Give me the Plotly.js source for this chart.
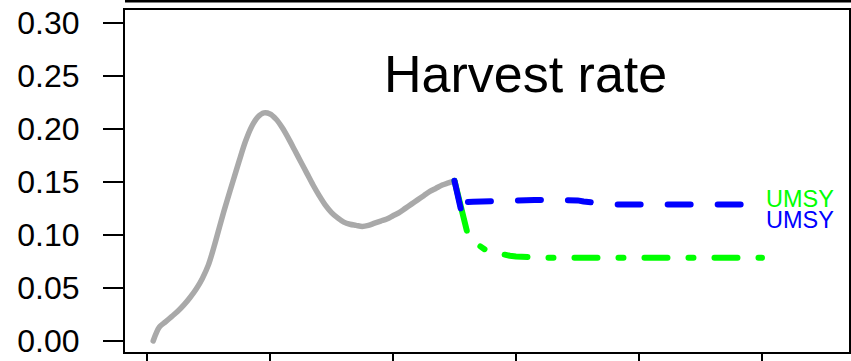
<!DOCTYPE html>
<html>
<head>
<meta charset="utf-8">
<script src="https://cdn.plot.ly/plotly-3.0.1.min.js"></script>
<style>
html,body{margin:0;padding:0;background:#fff;}
#chart{width:851px;height:361px;}
.scatterlayer .js-line{stroke-linecap:round !important;stroke-linejoin:round !important;}
</style>
</head>
<body>
<div id="chart"></div>
<script>
// ---- data ----
const histYears = [1961,1962,1963,1964,1965,1966,1967,1968,1969,1970,1971,1972,1973,1974,1975,1976,1977,1978,1979,1980,
  1981,1982,1983,1984,1985,1986,1987,1988,1989,1990,1991,1992,1993,1994,1995,1996,1997,1998,1999,2000,
  2001,2002,2003,2004,2005,2006,2007,2008,2009,2010];
const histRate = [0.000,0.013,0.018,0.023,0.028,0.034,0.041,0.049,0.059,0.072,0.091,0.112,0.132,0.151,0.170,0.188,0.202,0.211,0.215,0.214,
  0.209,0.201,0.191,0.180,0.169,0.158,0.147,0.137,0.128,0.121,0.116,0.112,0.110,0.109,0.108,0.109,0.111,0.113,0.115,0.118,
  0.121,0.125,0.129,0.133,0.137,0.141,0.144,0.147,0.149,0.151];
const projYears = [2010,2011,2012,2013,2014,2015,2016,2017,2018,2019,2020,2021,2022,2023,2024,2025,2026,2027,2028,2029,
  2030,2031,2032,2033,2034,2035,2036,2037,2038,2039,2040,2041,2042,2043,2044,2045,2046,2047,2048,2049,
  2050,2051,2052,2053,2054,2055,2056,2057,2058,2059,2060];
const greenRate = [0.151,0.126,0.104,0.095,0.090,0.086,0.084,0.0825,0.0812,0.0803,0.0797,0.0792,0.0789,0.0787,0.0786,0.0785,0.0785,0.0785,0.0785,0.0785,
  0.0785,0.0785,0.0785,0.0785,0.0785,0.0785,0.0785,0.0785,0.0785,0.0785,0.0785,0.0785,0.0785,0.0785,0.0785,0.0785,0.0785,0.0785,0.0785,0.0785,
  0.0785,0.0785,0.0785,0.0785,0.0785,0.0785,0.0785,0.0785,0.0785,0.0785,0.0785];
const blueRate = [0.151,0.125,0.131,0.1312,0.1315,0.1318,0.1320,0.1322,0.1324,0.1326,0.1327,0.1328,0.1328,0.1329,0.1330,0.1331,0.1332,0.1334,0.1335,0.1333,
  0.1325,0.1315,0.1305,0.1298,0.1292,0.1289,0.1287,0.1287,0.1287,0.1287,0.1287,0.1287,0.1287,0.1287,0.1287,0.1287,0.1287,0.1287,0.1287,0.1287,
  0.1287,0.1287,0.1287,0.1287,0.1287,0.1287,0.1287,0.1287,0.1287,0.1287,0.1287];
const yTickVals = [0.00,0.05,0.10,0.15,0.20,0.25,0.30];
const yTickText = ['0.00','0.05','0.10','0.15','0.20','0.25','0.30'];
const xTickVals = [1960,1980,2000,2020,2040,2060];
const titleText = 'Harvest rate';
const labelGreen = 'UMSY';
const labelBlue = 'UMSY';
const labelGreenY = 0.1338;
const labelBlueY = 0.1140;

// ---- styles ----
const FONT = 'Liberation Sans, Arial, Helvetica, sans-serif';
const GRAY = '#A9A9A9', GREEN = '#00FF00', BLUE = '#0000FF';
const LW = 6;

const traces = [
  {x: histYears, y: histRate, mode:'lines', line:{color:GRAY, width:5.5, shape:'spline', smoothing:0.9}, hoverinfo:'skip'},
  {x: projYears.slice(0,3), y: greenRate.slice(0,3), mode:'lines', line:{color:GREEN, width:LW}, hoverinfo:'skip'},
  {x: projYears.slice(2), y: greenRate.slice(2), mode:'lines', line:{color:GREEN, width:LW, dash:'23px,21px,5px,21px'}, hoverinfo:'skip'},
  {x: projYears.slice(0,2), y: blueRate.slice(0,2), mode:'lines', line:{color:BLUE, width:LW}, hoverinfo:'skip'},
  {x: projYears.slice(1), y: blueRate.slice(1), mode:'lines', line:{color:BLUE, width:LW, dash:'23px,27px'}, hoverinfo:'skip'}
];

const layout = {
  width: 851, height: 361,
  margin: {l:125, r:2, t:10, b:9, pad:0},
  paper_bgcolor:'#fff', plot_bgcolor:'#fff',
  showlegend:false,
  font:{family:FONT, color:'#000'},
  xaxis:{range:[1956.42, 2074.15], showgrid:false, zeroline:false,
    showline:true, mirror:true, linecolor:'#000', linewidth:2,
    ticks:'outside', ticklen:20, tickwidth:2, tickcolor:'#000',
    tickmode:'array', tickvals:xTickVals, showticklabels:false, automargin:false},
  yaxis:{range:[-0.0104, 0.312], showgrid:false, zeroline:false,
    showline:true, mirror:true, linecolor:'#000', linewidth:2,
    ticks:'outside', ticklen:20, tickwidth:2, tickcolor:'#000',
    tickmode:'array', tickvals:yTickVals, ticktext:yTickText, ticklabelstandoff:17,
    tickfont:{size:32, family:FONT, color:'#000'}, automargin:false},
  annotations:[
    {xref:'paper', yref:'paper', x:0.5525, y:0.813, xanchor:'center', yanchor:'middle',
     text:titleText, showarrow:false, font:{size:52, family:FONT, color:'#000'}},
    {xref:'x', yref:'y', x:2060, y:labelGreenY, xanchor:'left', yanchor:'middle', xshift:2,
     text:labelGreen, showarrow:false, font:{size:23.5, family:FONT, color:GREEN}},
    {xref:'x', yref:'y', x:2060, y:labelBlueY, xanchor:'left', yanchor:'middle', xshift:2,
     text:labelBlue, showarrow:false, font:{size:23.5, family:FONT, color:BLUE}}
  ],
  shapes:[
    {type:'line', xref:'paper', yref:'paper', x0:0, x1:1.02, y0:1.0263, y1:1.0263,
     line:{color:'#000', width:3}}
  ]
};

Plotly.newPlot('chart', traces, layout, {staticPlot:true, displayModeBar:false}).then(function(gd){
  const tr = gd.querySelectorAll('.scatterlayer .trace');
  if (tr[2]) tr[2].querySelectorAll('.js-line').forEach(p => p.style.strokeDashoffset = '23px');
  if (tr[4]) tr[4].querySelectorAll('.js-line').forEach(p => p.style.strokeDashoffset = '40px');
});
</script>
</body>
</html>
